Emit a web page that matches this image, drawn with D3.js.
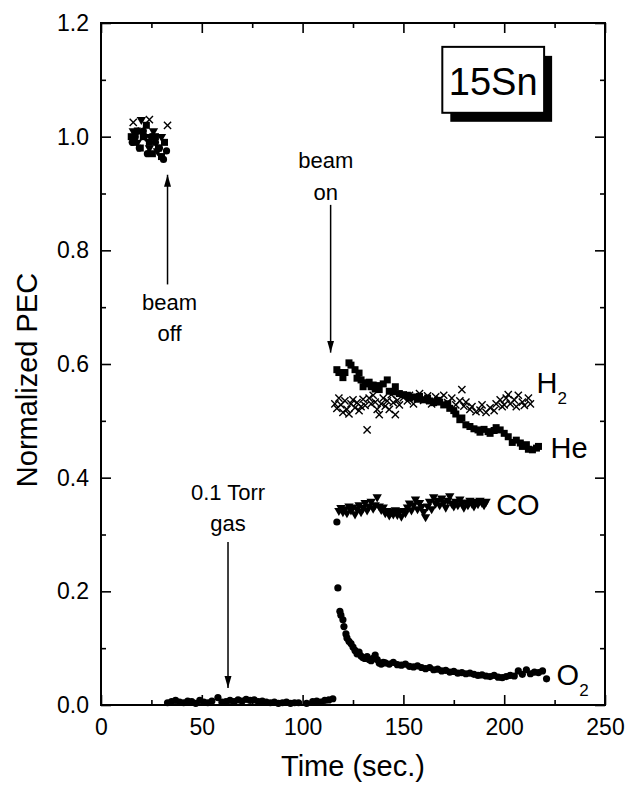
<!DOCTYPE html>
<html><head><meta charset="utf-8">
<script src="https://cdn.jsdelivr.net/npm/d3@7"></script>
<style>body{margin:0;background:#fff}svg{display:block}text{font-family:"Liberation Sans",Arial,sans-serif;fill:#000}</style>
</head><body><svg id="c" width="627" height="787"></svg>
<script>
// ---- data (time in s, normalized PEC) ----
const xTicks = [0, 50, 100, 150, 200, 250];
const xMinor = [25, 75, 125, 175, 225];
const yTicks = [0.0, 0.2, 0.4, 0.6, 0.8, 1.0, 1.2];
const yMinor = [0.1, 0.3, 0.5, 0.7, 0.9, 1.1];

// He (squares)
const heData = [[15,1.00],[16.5,0.99],[18,1.01],[19.5,0.98],[21,1.00],[22.5,1.02],[24,0.99],[25.5,0.97],[27,1.00],[28.5,0.98],[30,0.965],[31.5,0.99],
[117,0.590],[118,0.585],[120,0.576],[121,0.585],[123,0.602],[124,0.598],[126,0.590],[127,0.575],[128,0.584],[129,0.572],[130,0.560],[131,0.567],[132,0.565],[133,0.568],[134,0.560],[135,0.563],[136,0.556],[137,0.562],[138,0.555],[140,0.565],[142,0.572],[143,0.552],[145,0.551],[146,0.560],[148,0.548],[150,0.546],[152,0.545],[153,0.540],[155,0.542],[157,0.538],[158,0.543],[160,0.537],[162,0.540],[163,0.535],[165,0.532],[167,0.536],[168,0.533],[170,0.528],[172,0.530],[173,0.522],[175,0.518],[176,0.512],[178,0.502],[179,0.505],[181,0.493],[183,0.490],[185,0.486],[187,0.484],[188,0.480],[190,0.485],[192,0.481],[193,0.478],[195,0.483],[196,0.488],[198,0.484],[200,0.478],[202,0.472],[204,0.462],[206,0.466],[208,0.461],[209,0.455],[211,0.458],[212,0.450],[214,0.449],[216,0.452],[217,0.455]];

// H2 (crosses)
const h2Data = [[16,1.025],[20,1.01],[24,1.03],[33,1.02],
[116,0.530],[117,0.522],[118,0.540],[119,0.528],[120,0.515],[121,0.535],[122,0.520],[123,0.512],[124,0.530],[125,0.537],[126,0.523],[127,0.532],[128,0.518],[129,0.525],[130,0.538],[131,0.527],[132,0.484],[133,0.540],[134,0.530],[135,0.545],[136,0.533],[137,0.520],[138,0.511],[139,0.530],[140,0.540],[141,0.526],[142,0.535],[143,0.520],[144,0.546],[145,0.532],[146,0.511],[147,0.536],[148,0.528],[150,0.541],[152,0.535],[153,0.545],[155,0.530],[157,0.540],[158,0.548],[160,0.536],[162,0.544],[164,0.530],[166,0.542],[168,0.538],[170,0.545],[172,0.532],[174,0.540],[176,0.528],[178,0.535],[179,0.555],[180,0.526],[181,0.533],[183,0.520],[184,0.525],[186,0.516],[188,0.519],[189,0.528],[191,0.515],[193,0.523],[195,0.518],[196,0.530],[198,0.537],[199,0.525],[200,0.528],[201,0.540],[202,0.546],[203,0.530],[205,0.537],[206,0.525],[207,0.545],[209,0.533],[210,0.527],[212,0.540],[213,0.530]];

// CO (down triangles); first point after beam-on printed as a dot
const coData = [[16,1.01],[18,0.99],[20,1.03],[22,1.00],[24,0.98],[26,1.01],[28,0.975],[30,1.00],
[118,0.342],[119,0.347],[120,0.340],[121,0.345],[122,0.338],[123,0.350],[124,0.343],[125,0.348],[126,0.336],[127,0.345],[128,0.352],[129,0.340],[130,0.347],[131,0.356],[132,0.343],[133,0.350],[134,0.358],[135,0.346],[136,0.352],[137,0.366],[138,0.350],[139,0.344],[140,0.348],[141,0.338],[142,0.342],[143,0.334],[144,0.340],[145,0.336],[146,0.343],[147,0.335],[148,0.340],[149,0.332],[150,0.342],[151,0.338],[152,0.348],[153,0.355],[154,0.343],[155,0.352],[156,0.362],[157,0.345],[158,0.356],[159,0.349],[160,0.340],[161,0.331],[162,0.350],[163,0.358],[164,0.345],[165,0.366],[166,0.355],[167,0.360],[168,0.352],[169,0.364],[170,0.356],[171,0.348],[172,0.360],[173,0.368],[174,0.355],[175,0.350],[176,0.358],[177,0.352],[178,0.362],[179,0.355],[180,0.348],[181,0.357],[182,0.352],[183,0.360],[184,0.355],[185,0.350],[186,0.358],[187,0.354],[188,0.360],[189,0.356],[190,0.352],[191,0.358]];
const coDot = [[117,0.322]];

// O2 (circles)
const o2Data = [[15.5,0.99],[17,1.00],[19,0.98],[21,1.01],[23,0.97],[25,1.00],[27,0.99],[29,0.98],[31,0.96],[32.5,0.975],
[33,0.004],[35,0.006],[37,0.008],[39,0.005],[41,0.004],[43,0.007],[45,0.006],[47,0.003],[49,0.008],[51,0.005],[53,0.004],[55,0.007],[58,0.013],[60,0.005],[62,0.006],[64,0.008],[66,0.006],[68,0.009],[70,0.007],[72,0.010],[74,0.008],[76,0.009],[78,0.006],[80,0.007],[82,0.005],[84,0.004],[86,0.005],[88,0.003],[90,0.004],[92,0.005],[94,0.003],[96,0.004],[98,0.004],[102,0.003],[105,0.006],[107,0.007],[109,0.005],[111,0.008],[113,0.009],[115,0.011],
[117.5,0.206],[118.5,0.165],[119,0.158],[120,0.150],[120.5,0.138],[121.5,0.125],[122,0.118],[123,0.112],[124,0.108],[125,0.102],[126,0.096],[127,0.090],[128,0.093],[129,0.086],[130,0.083],[131,0.082],[132,0.085],[133,0.080],[134,0.078],[135,0.082],[136,0.088],[137,0.080],[138,0.074],[139,0.072],[140,0.075],
[141,0.074],[143,0.072],[145,0.075],[147,0.071],[149,0.070],[151,0.072],[153,0.068],[155,0.067],[157,0.069],[159,0.066],[161,0.064],[163,0.066],[165,0.062],[167,0.063],[169,0.060],[171,0.061],[173,0.058],[175,0.059],[177,0.056],[179,0.057],[181,0.055],[183,0.056],[185,0.054],[187,0.052],[189,0.053],[191,0.051],[193,0.050],[195,0.052],[197,0.049],[199,0.048],[201,0.050],[203,0.052],[205,0.051],[207,0.060],[209,0.054],[211,0.062],[213,0.055],[215,0.058],[217,0.057],[219,0.060],[221,0.046]];

// annotations (data units)
const arrows = [
  {t:33, from:0.74, to:0.933, lines:["beam","off"], tx:34, ty:[0.695,0.641]},
  {t:113.9, from:0.88, to:0.62, lines:["beam","on"], tx:111.5, ty:[0.945,0.889]},
  {t:63, from:0.287, to:0.03, lines:["0.1 Torr","gas"], tx:63, ty:[0.361,0.307]}
];
const seriesLabels = [
  {t:216, v:0.549, main:"H", sub:"2"},
  {t:223, v:0.435, main:"He", sub:""},
  {t:196, v:0.334, main:"CO", sub:""},
  {t:226, v:0.035, main:"O", sub:"2"}
];
const boxLabel = {text:"15Sn", t0:169.3, t1:219.8, v0:1.158, v1:1.042};

// ---- drawing ----
const svg = d3.select("#c");
const x = d3.scaleLinear().domain([0,250]).range([101,605]);
const y = d3.scaleLinear().domain([0,1.2]).range([705,23]);

const defs = svg.append("defs");
defs.append("marker").attr("id","ah").attr("viewBox","0 0 12 8").attr("refX",12).attr("refY",4)
  .attr("markerWidth",12).attr("markerHeight",8).attr("markerUnits","userSpaceOnUse").attr("orient","auto")
  .append("path").attr("d","M0,0.5 L12,4 L0,7.5 Z").attr("fill","#000");

// data marks
const g = svg.append("g");
g.selectAll(".sq").data(heData).join("rect")
  .attr("x",d=>x(d[0])-3.5).attr("y",d=>y(d[1])-3.5).attr("width",7).attr("height",7).attr("fill","#000");
const tri = d3.symbol().type(d3.symbolTriangle).size(38);
g.selectAll(".tr").data(coData).join("path")
  .attr("d",tri).attr("transform",d=>`translate(${x(d[0])},${y(d[1])}) rotate(180)`).attr("fill","#000");
g.selectAll(".cd").data(coDot).join("circle")
  .attr("cx",d=>x(d[0])).attr("cy",d=>y(d[1])).attr("r",3.6).attr("fill","#000");
g.selectAll(".ci").data(o2Data).join("circle")
  .attr("cx",d=>x(d[0])).attr("cy",d=>y(d[1])).attr("r",3.6).attr("fill","#000");
g.selectAll(".xx").data(h2Data).join("path")
  .attr("d",d=>{const cx=x(d[0]),cy=y(d[1]),r=3.6;return `M${cx-r},${cy-r}L${cx+r},${cy+r}M${cx-r},${cy+r}L${cx+r},${cy-r}`;})
  .attr("stroke","#000").attr("stroke-width",1.4).attr("fill","none");

// frame
svg.append("rect").attr("x",x(0)).attr("y",y(1.2)).attr("width",x(250)-x(0)).attr("height",y(0)-y(1.2))
  .attr("fill","none").attr("stroke","#000").attr("stroke-width",2);

function styleAxis(sel){sel.select(".domain").remove();sel.selectAll("line").attr("stroke","#000").attr("stroke-width",1.6);}
const fs = 23;
const ax = svg.append("g").attr("transform",`translate(0,${y(0)})`)
  .call(d3.axisBottom(x).tickValues(xTicks).tickFormat(d3.format("d")).tickSizeInner(-10).tickSizeOuter(0).tickPadding(14));
styleAxis(ax); ax.selectAll("text").attr("font-size",fs).attr("font-family","Liberation Sans, Arial, sans-serif");
const axm = svg.append("g").attr("transform",`translate(0,${y(0)})`)
  .call(d3.axisBottom(x).tickValues(xMinor).tickFormat("").tickSizeInner(-5).tickSizeOuter(0));
styleAxis(axm);
const axt = svg.append("g").attr("transform",`translate(0,${y(1.2)})`)
  .call(d3.axisTop(x).tickValues(xTicks).tickFormat("").tickSizeInner(-10).tickSizeOuter(0));
styleAxis(axt);
const axtm = svg.append("g").attr("transform",`translate(0,${y(1.2)})`)
  .call(d3.axisTop(x).tickValues(xMinor).tickFormat("").tickSizeInner(-5).tickSizeOuter(0));
styleAxis(axtm);

const ay = svg.append("g").attr("transform",`translate(${x(0)},0)`)
  .call(d3.axisLeft(y).tickValues(yTicks).tickFormat(d3.format(".1f")).tickSizeInner(-10).tickSizeOuter(0).tickPadding(12));
styleAxis(ay); ay.selectAll("text").attr("font-size",fs).attr("font-family","Liberation Sans, Arial, sans-serif");
const aym = svg.append("g").attr("transform",`translate(${x(0)},0)`)
  .call(d3.axisLeft(y).tickValues(yMinor).tickFormat("").tickSizeInner(-5).tickSizeOuter(0));
styleAxis(aym);
const ayr = svg.append("g").attr("transform",`translate(${x(250)},0)`)
  .call(d3.axisRight(y).tickValues(yTicks).tickFormat("").tickSizeInner(-10).tickSizeOuter(0));
styleAxis(ayr);
const ayrm = svg.append("g").attr("transform",`translate(${x(250)},0)`)
  .call(d3.axisRight(y).tickValues(yMinor).tickFormat("").tickSizeInner(-5).tickSizeOuter(0));
styleAxis(ayrm);

// axis titles
svg.append("text").attr("x",(x(0)+x(250))/2).attr("y",776).attr("text-anchor","middle")
  .attr("font-size",29).text("Time (sec.)");
svg.append("text").attr("transform",`translate(37,${380}) rotate(-90)`).attr("text-anchor","middle")
  .attr("font-size",29).text("Normalized PEC");

// arrows + annotation text
arrows.forEach(a=>{
  svg.append("line").attr("x1",x(a.t)).attr("x2",x(a.t)).attr("y1",y(a.from)).attr("y2",y(a.to))
    .attr("stroke","#000").attr("stroke-width",1.5).attr("marker-end","url(#ah)");
  a.lines.forEach((s,i)=>svg.append("text").attr("x",x(a.tx)).attr("y",y(a.ty[i]))
    .attr("text-anchor","middle").attr("font-size",22).text(s));
});

// series labels
seriesLabels.forEach(l=>{
  const t = svg.append("text").attr("x",x(l.t)).attr("y",y(l.v)).attr("font-size",29);
  t.append("tspan").text(l.main);
  if(l.sub) t.append("tspan").attr("font-size",17).attr("dy",11).text(l.sub);
});

// 15Sn box with shadow
const bx0=x(boxLabel.t0), bx1=x(boxLabel.t1), by0=y(boxLabel.v0), by1=y(boxLabel.v1);
svg.append("rect").attr("x",bx0+8).attr("y",by0+9).attr("width",bx1-bx0).attr("height",by1-by0).attr("fill","#000");
svg.append("rect").attr("x",bx0).attr("y",by0).attr("width",bx1-bx0).attr("height",by1-by0)
  .attr("fill","#fff").attr("stroke","#000").attr("stroke-width",2);
svg.append("text").attr("x",(bx0+bx1)/2).attr("y",by1-18).attr("text-anchor","middle")
  .attr("font-size",38).text(boxLabel.text);
</script></body></html>
